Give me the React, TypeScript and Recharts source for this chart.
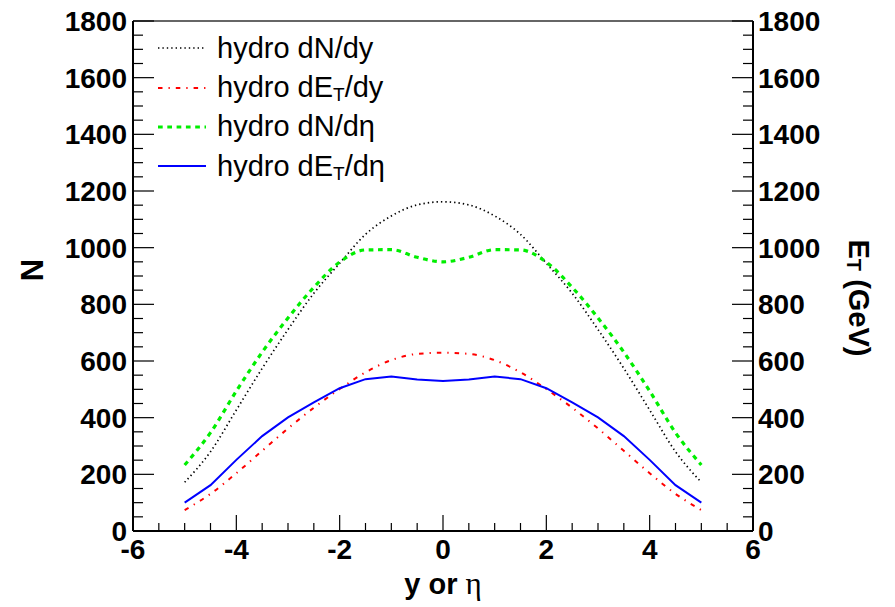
import { Legend, Line, LineChart, ReferenceLine, XAxis, YAxis } from 'recharts';

const FONT = '"Liberation Sans", Arial, Helvetica, sans-serif';

// rapidity / pseudorapidity grid
const xValues = [-5, -4.5, -4, -3.5, -3, -2.5, -2, -1.5, -1, -0.5, 0, 0.5, 1, 1.5, 2, 2.5, 3, 3.5, 4, 4.5, 5];

const dNdy = [172, 280, 427, 574, 711, 839, 945, 1047, 1112, 1151, 1162, 1151, 1112, 1047, 945, 839, 711, 574, 427, 280, 172];
const dETdy = [74, 131, 204, 283, 362, 435, 501, 560, 603, 625, 629, 625, 603, 560, 501, 435, 362, 283, 204, 131, 74];
const dNdeta = [233, 347, 494, 631, 752, 860, 949, 992, 993, 966, 950, 966, 993, 992, 949, 860, 752, 631, 494, 347, 233];
const dETdeta = [100, 162, 251, 335, 401, 454, 504, 536, 545, 535, 529, 535, 545, 536, 504, 454, 401, 335, 251, 162, 100];

const xTicks = [-6, -5.5, -5, -4.5, -4, -3.5, -3, -2.5, -2, -1.5, -1, -0.5, 0, 0.5, 1, 1.5, 2, 2.5, 3, 3.5, 4, 4.5, 5, 5.5, 6];
const yMajor = [0, 200, 400, 600, 800, 1000, 1200, 1400, 1600, 1800];
// minor ticks every 50 between the labelled ones
const yTicks = yMajor.flatMap((v, i) => (i === 0 ? [v] : [v - 150, v - 100, v - 50, v]));

const data = xValues.map((x, i) => ({
  x,
  dNdy: dNdy[i],
  dETdy: dETdy[i],
  dNdeta: dNdeta[i],
  dETdeta: dETdeta[i],
}));

type Series = {
  key: string;
  axis: 'left' | 'right';
  color: string;
  width: number;
  dash?: string;
  curve: 'monotone' | 'linear';
  label: [string, string | null, string];
};

// N curves on the left axis, E_T curves on the right (same 0..1800 range)
const series: Series[] = [
  { key: 'dNdy', axis: 'left', color: '#000000', width: 1.7, dash: '1.4 3', curve: 'monotone', label: ['hydro dN/dy', null, ''] },
  { key: 'dETdy', axis: 'right', color: '#ff0000', width: 2, dash: '4.5 6 1.3 6', curve: 'monotone', label: ['hydro dE', 'T', '/dy'] },
  { key: 'dNdeta', axis: 'left', color: '#00ee00', width: 3.2, dash: '4.7 4.6', curve: 'monotone', label: ['hydro dN/d\u03b7', null, ''] },
  { key: 'dETdeta', axis: 'right', color: '#0000ff', width: 2, curve: 'linear', label: ['hydro dE', 'T', '/d\u03b7'] },
];

const isMajor = (v: number, step: number) => Math.abs(Number(v) % step) < 1e-9;

function XTick(props: any) {
  const { x, y, payload } = props;
  const major = isMajor(payload.value, 2);
  return (
    <g>
      <line x1={x} x2={x} y1={y} y2={y - (major ? 16 : 8)} stroke="#000" strokeWidth={1.2} />
      {major && (
        <text x={x} y={y + 28} textAnchor="middle" fontFamily={FONT} fontWeight="bold" fontSize={28} fill="#000">
          {payload.value}
        </text>
      )}
    </g>
  );
}

function YTick(props: any) {
  const { x, y, payload, side } = props;
  const major = isMajor(payload.value, 200);
  const dir = side === 'left' ? 1 : -1;
  return (
    <g>
      <line x1={x} x2={x + dir * (major ? 21 : 10)} y1={y} y2={y} stroke="#000" strokeWidth={1.2} />
      {major && (
        <text
          x={side === 'left' ? x - 6 : x + 5}
          y={y + 10}
          textAnchor={side === 'left' ? 'end' : 'start'}
          fontFamily={FONT}
          fontWeight="bold"
          fontSize={28}
          fill="#000"
        >
          {payload.value}
        </text>
      )}
    </g>
  );
}

function renderLegend() {
  return (
    <div style={{ fontFamily: FONT, fontSize: 29, lineHeight: 1, color: '#000' }}>
      {series.map((s) => (
        <div key={s.key} style={{ display: 'flex', alignItems: 'center', height: 39.4 }}>
          <svg width={60} height={10} style={{ display: 'block' }}>
            <line x1={8} x2={56} y1={5} y2={5} stroke={s.color} strokeWidth={s.width} strokeDasharray={s.dash} />
          </svg>
          <span style={{ marginLeft: 7, whiteSpace: 'nowrap' }}>
            {s.label[0]}
            {s.label[1] && <span style={{ fontSize: 19, position: 'relative', top: 4 }}>{s.label[1]}</span>}
            {s.label[2]}
          </span>
        </div>
      ))}
    </div>
  );
}

export default function App() {
  return (
    <div style={{ width: 895, height: 607, background: '#fff' }}>
      <style>{'body{margin:0}'}</style>
      <LineChart width={895} height={607} data={data} margin={{ top: 21, right: 0, bottom: 0, left: 0 }}>
        <XAxis
          dataKey="x"
          type="number"
          domain={[-6, 6]}
          ticks={xTicks}
          interval={0}
          height={76}
          tickSize={0}
          tickMargin={0}
          tick={(p: any) => <XTick {...p} />}
          axisLine={{ stroke: '#000', strokeWidth: 2 }}
          label={(p: any) => {
            const vb = p.viewBox;
            return (
              <text x={vb.x + vb.width / 2} y={594} textAnchor="middle" fill="#000">
                <tspan fontFamily={FONT} fontWeight="bold" fontSize={29}>y or </tspan>
                <tspan fontFamily='"Liberation Serif", "DejaVu Serif", serif' fontSize={31}>{'\u03b7'}</tspan>
              </text>
            );
          }}
        />
        <YAxis
          yAxisId="left"
          type="number"
          domain={[0, 1800]}
          ticks={yTicks}
          interval={0}
          width={133}
          tickSize={0}
          tickMargin={0}
          tick={(p: any) => <YTick {...p} side="left" />}
          axisLine={{ stroke: '#000', strokeWidth: 2 }}
          label={() => (
            <text
              x={32}
              y={270}
              transform="rotate(-90, 32, 270)"
              textAnchor="middle"
              dominantBaseline="central"
              fontFamily={FONT}
              fontWeight="bold"
              fontSize={31}
              fill="#000"
            >
              N
            </text>
          )}
        />
        <YAxis
          yAxisId="right"
          orientation="right"
          type="number"
          domain={[0, 1800]}
          ticks={yTicks}
          interval={0}
          width={142}
          tickSize={0}
          tickMargin={0}
          tick={(p: any) => <YTick {...p} side="right" />}
          axisLine={{ stroke: '#000', strokeWidth: 2 }}
          label={() => (
            <text
              x={859}
              y={298}
              transform="rotate(90, 859, 298)"
              textAnchor="middle"
              dominantBaseline="central"
              fontFamily={FONT}
              fontWeight="bold"
              fontSize={29}
              fill="#000"
            >
              E<tspan dy={5} fontSize={20}>T</tspan>
              <tspan dy={-5}> (GeV)</tspan>
            </text>
          )}
        />
        <ReferenceLine yAxisId="left" y={1800} stroke="#333" strokeWidth={1.5} />
        {series.map((s) => (
          <Line
            key={s.key}
            yAxisId={s.axis}
            type={s.curve}
            dataKey={s.key}
            stroke={s.color}
            strokeWidth={s.width}
            strokeDasharray={s.dash}
            dot={false}
            activeDot={false}
            isAnimationActive={false}
          />
        ))}
        <Legend
          layout="vertical"
          align="center"
          verticalAlign="middle"
          content={renderLegend}
          wrapperStyle={{ left: 150, top: 28.5, width: 'auto', height: 'auto' }}
        />
      </LineChart>
    </div>
  );
}
